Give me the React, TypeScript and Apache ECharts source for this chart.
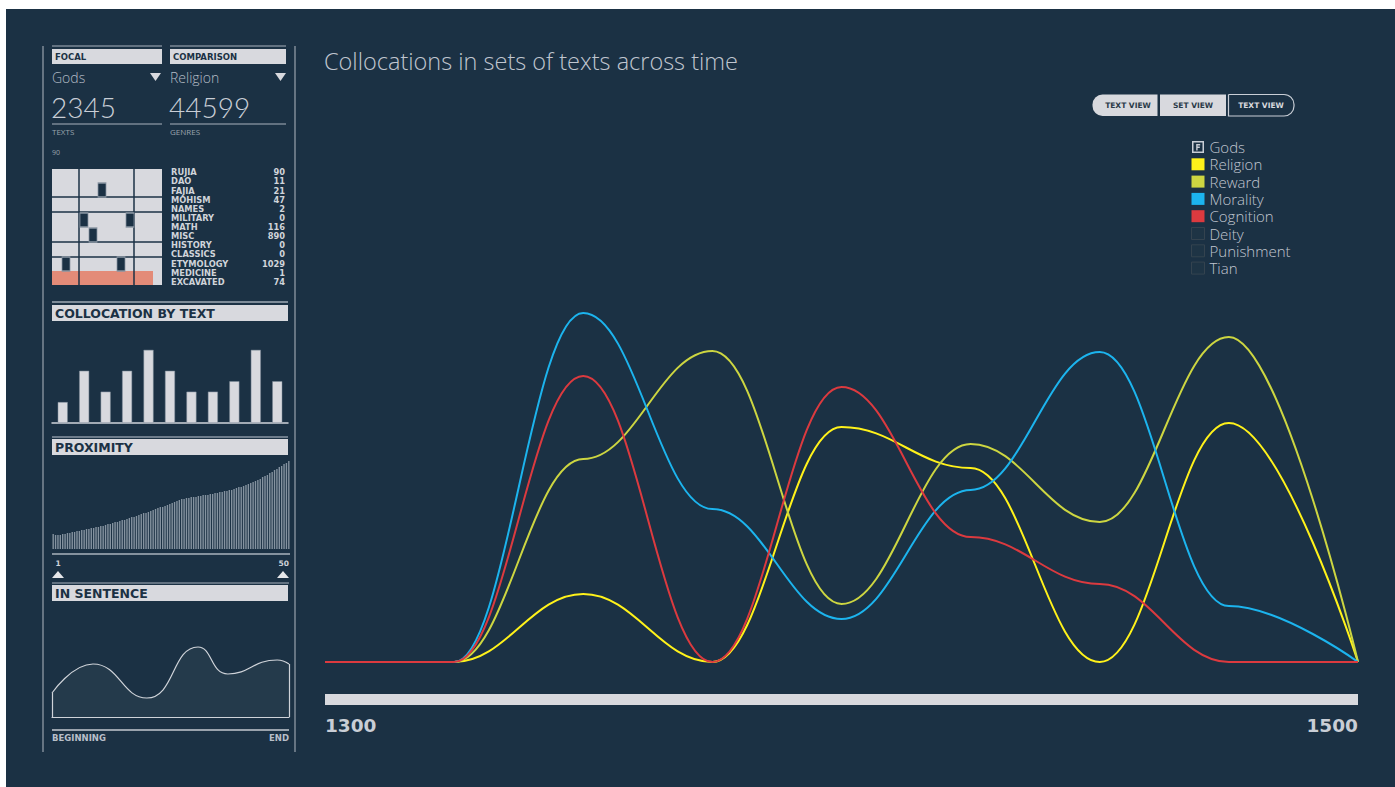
import React, { useEffect, useRef } from 'react';
import * as echarts from 'echarts';

// ---- main chart data ----
const years = [1300, 1325, 1350, 1375, 1400, 1425, 1450, 1475, 1500];
const religion = [0, 0, 68, 0, 235, 194, 0, 239, 0];
const reward = [0, 0, 203, 311, 58, 218, 140, 325, 0];
const morality = [0, 0, 349, 153, 43, 172, 310, 56, 0];
const cognition = [0, 0, 286, 0, 275, 125, 78, 0, 0];
const legendNames = ['Gods', 'Religion', 'Reward', 'Morality', 'Cognition', 'Deity', 'Punishment', 'Tian'];
const seriesColors: Record<string, string> = {
  Religion: '#fff21a',
  Reward: '#cdd641',
  Morality: '#1cb4ee',
  Cognition: '#dc3a3f',
};

// ---- side panel data ----
const focalTerm = 'Gods';
const comparisonTerm = 'Religion';
const textCount = '2345';
const genreCount = '44599';
const genreNames = ['RUJIA', 'DAO', 'FAJIA', 'MOHISM', 'NAMES', 'MILITARY', 'MATH', 'MISC', 'HISTORY', 'CLASSICS', 'ETYMOLOGY', 'MEDICINE', 'EXCAVATED'];
const genreCounts = [90, 11, 21, 47, 2, 0, 116, 890, 0, 0, 1029, 1, 74];
const gridCells = [[50, 21], [32, 51], [78, 51], [41, 66], [14, 95], [69, 95]];
const gridFill = [101];
const collocationByText = [2, 5, 3, 5, 7, 5, 3, 3, 4, 7, 4];
const proximity = [
  15, 14, 14, 14, 15, 15, 16, 16, 17, 17,
  18, 18, 19, 19, 20, 20, 21, 21, 22, 22,
  23, 23, 24, 25, 25, 26, 27, 27, 28, 29,
  29, 30, 31, 32, 32, 33, 34, 35, 36, 36,
  37, 38, 39, 40, 41, 42, 42, 43, 44, 45,
  46, 47, 48, 49, 50, 50, 51, 51, 52, 52,
  52, 53, 53, 54, 54, 54, 55, 55, 56, 56,
  57, 57, 58, 58, 59, 59, 60, 61, 62, 62,
  63, 64, 65, 66, 67, 68, 69, 70, 72, 73,
  74, 76, 77, 79, 80, 82, 83, 85, 86, 88,
];
const sentencePos = [0, 17.3, 40, 61.6, 74.2, 95, 100];
const sentenceVal = [24, 53, 19, 70, 43, 57, 53];

const BG = '#1b3144';
const PANEL = '#d8d9de';
const BOLD = 'DejaVu Sans';
const LIGHT = 'Lato';
const THIN = 'Open Sans';

function txt(text: string, x: number, y: number, size: number, fill: string, weight: any = 'normal', family = BOLD, align = 'left', z = 5) {
  return {
    type: 'text', x, y, z,
    style: { text, fontSize: size, fontWeight: weight, fontFamily: family, fill, textAlign: align, textVerticalAlign: 'middle' },
  };
}
function hline(x1: number, x2: number, y: number, stroke: string, w = 1, z = 5) {
  return { type: 'line', z, shape: { x1, y1: y, x2, y2: y }, style: { stroke, lineWidth: w } };
}
function vline(x: number, y1: number, y2: number, stroke: string, w = 1, z = 5) {
  return { type: 'line', z, shape: { x1: x, y1, x2: x, y2 }, style: { stroke, lineWidth: w } };
}
function rect(x: number, y: number, w: number, h: number, fill: string, z = 1, extra: any = {}) {
  return { type: 'rect', z, shape: { x, y, width: w, height: h, ...(extra.shape || {}) }, style: { fill, ...(extra.style || {}) } };
}

export default function App() {
  const ref = useRef<HTMLDivElement>(null);
  useEffect(() => {
    const chart = echarts.init(ref.current!, null, { renderer: 'svg' });

    const graphic: any[] = [
      rect(6, 9, 1389, 778, BG, -10),
      // panel borders
      vline(43, 46, 752, '#9aa3ad', 1.2),
      vline(295, 46, 752, '#9aa3ad', 1.2),
      // focal / comparison
      hline(52, 162, 46, '#aab3bd', 1),
      hline(170, 286, 46, '#aab3bd', 1),
      rect(52, 49, 110, 15, PANEL, 1),
      rect(170, 49, 116, 15, PANEL, 1),
      txt('FOCAL', 55, 57, 8.5, BG, 'bold'),
      txt('COMPARISON', 173, 57, 8.5, BG, 'bold'),
      txt(focalTerm, 52, 77.5, 14, '#b4bcc6', 300, THIN),
      txt(comparisonTerm, 170, 77.5, 14, '#b4bcc6', 300, THIN),
      { type: 'polygon', z: 5, shape: { points: [[150, 73], [161, 73], [155.5, 81]] }, style: { fill: PANEL } },
      { type: 'polygon', z: 5, shape: { points: [[275, 73], [286, 73], [280.5, 81]] }, style: { fill: PANEL } },
      txt(textCount, 51, 107, 28, '#c9ced6', 300, LIGHT),
      txt(genreCount, 169, 107, 28, '#c9ced6', 300, LIGHT),
      hline(52, 162, 124, '#aab3bd', 1),
      hline(170, 286, 124, '#aab3bd', 1),
      txt('TEXTS', 52, 131.5, 8, '#9aa3ad', 'normal', THIN),
      txt('GENRES', 170, 131.5, 8, '#9aa3ad', 'normal', THIN),
      txt(String(genreCounts[0]), 52, 152, 7, '#9aa3ad', 'normal', THIN),
      // cell grid
      rect(52, 169, 110, 116, PANEL, 0),
      vline(79, 169, 285, BG, 1.5, 10),
      vline(134, 169, 285, BG, 1.5, 10),
      hline(52, 162, 197, BG, 1.5, 10),
      hline(52, 162, 212, BG, 1.5, 10),
      hline(52, 162, 242, BG, 1.5, 10),
      hline(52, 162, 257, BG, 1.5, 10),
      // collocation header
      hline(52, 288, 302, '#7d8b98', 2),
      rect(52, 305, 236, 16, PANEL, 1),
      txt('COLLOCATION BY TEXT', 55, 313.5, 12.5, BG, 'bold'),
      // proximity header
      hline(52, 288, 437, '#8a96a3', 1.5),
      rect(52, 439, 236, 16, PANEL, 1),
      txt('PROXIMITY', 55, 447.5, 12.5, BG, 'bold'),
      hline(52, 290, 554, '#aab3bd', 1.5),
      txt('1', 58, 563, 7.5, '#d0d4da', 'bold', BOLD, 'center'),
      txt('50', 289, 563, 7.5, '#d0d4da', 'bold', BOLD, 'right'),
      { type: 'polygon', z: 5, shape: { points: [[52, 578], [58, 571], [64, 578]] }, style: { fill: '#e6e7ea' } },
      { type: 'polygon', z: 5, shape: { points: [[277, 578], [283, 571], [289, 578]] }, style: { fill: '#e6e7ea' } },
      hline(52, 289, 583, '#aab3bd', 1),
      // in sentence header
      rect(52, 585, 236, 16, PANEL, 1),
      txt('IN SENTENCE', 55, 593.5, 12.5, BG, 'bold'),
      hline(52, 289, 730, '#9aa3ad', 2),
      txt('BEGINNING', 52, 737.5, 8.5, '#b8bfc9', 'bold'),
      txt('END', 289, 737.5, 8.5, '#b8bfc9', 'bold', BOLD, 'right'),
      // title
      txt('Collocations in sets of texts across time', 324, 61, 23.5, '#c0c6d0', 300, THIN),
      // view buttons
      rect(1092.5, 94.5, 65, 21.5, PANEL, 1, { shape: { r: [10, 0, 0, 10] } }),
      rect(1160, 94.5, 66, 21.5, PANEL, 1),
      rect(1228.5, 94.5, 65.5, 21.5, 'none', 1, { shape: { r: [0, 10, 10, 0] }, style: { stroke: '#c9ced6', lineWidth: 1.2 } }),
      txt('TEXT VIEW', 1128, 105.5, 7.5, '#2a3a48', 'bold', BOLD, 'center'),
      txt('SET VIEW', 1193, 105.5, 7.5, '#2a3a48', 'bold', BOLD, 'center'),
      txt('TEXT VIEW', 1261, 105.5, 7.5, '#d8d9de', 'bold', BOLD, 'center'),
    ];

    genreNames.forEach((g, i) => {
      const y = 172.3 + i * 9.12;
      graphic.push(txt(g, 171, y, 8.3, '#d0d4da', 'bold'));
      graphic.push(txt(String(genreCounts[i]), 285, y, 8.3, '#d0d4da', 'bold', BOLD, 'right'));
    });

    const mainData: Record<string, number[]> = { Religion: religion, Reward: reward, Morality: morality, Cognition: cognition };

    const legendData = legendNames.map((n) => {
      if (n === 'Gods') {
        return {
          name: n,
          icon: 'path://M0,0H12V12H0Z M1.5,1.5V10.5H10.5V1.5Z M4.2,3H8.2V4.4H5.6V5.6H7.8V7H5.6V9.4H4.2Z',
          itemStyle: { color: '#c9ced6', borderWidth: 0 },
        };
      }
      if (seriesColors[n]) {
        return { name: n, icon: 'rect', itemStyle: { color: seriesColors[n], borderWidth: 0 } };
      }
      return { name: n, icon: 'rect', itemStyle: { color: '#1e3445', borderColor: '#34434f', borderWidth: 1 } };
    });

    const series: any[] = [];
    legendNames.forEach((n) => {
      if (mainData[n]) {
        series.push({
          name: n, type: 'line', xAxisIndex: 0, yAxisIndex: 0,
          data: years.map((y, i) => [y, mainData[n][i]]),
          smooth: 0.4, smoothMonotone: 'x', showSymbol: false, symbol: 'none',
          lineStyle: { color: seriesColors[n], width: 2 },
          itemStyle: { color: seriesColors[n] },
          z: 3,
        });
      } else {
        series.push({
          name: n, type: 'line', xAxisIndex: 0, yAxisIndex: 0, data: [],
          symbol: 'none', lineStyle: { color: '#1e3445' }, itemStyle: { color: '#1e3445' },
        });
      }
    });

    series.push({
      type: 'scatter', xAxisIndex: 1, yAxisIndex: 1, data: gridCells,
      symbol: 'rect', symbolSize: [8, 14], z: 20, silent: true,
      itemStyle: { color: BG, borderColor: '#8a96a3', borderWidth: 1, opacity: 1 },
    });
    series.push({
      type: 'bar', xAxisIndex: 2, yAxisIndex: 2, data: gridFill, barWidth: 14, z: 2, silent: true,
      itemStyle: { color: '#e38b78' },
    });
    series.push({
      type: 'bar', xAxisIndex: 3, yAxisIndex: 3, data: collocationByText, barWidth: 10, silent: true,
      itemStyle: { color: PANEL, borderColor: '#7d8b98', borderWidth: 0.5 },
    });
    series.push({
      type: 'bar', xAxisIndex: 4, yAxisIndex: 4, data: proximity, barWidth: 1.4, silent: true,
      itemStyle: { color: '#8593a0' },
    });
    series.push({
      type: 'line', xAxisIndex: 5, yAxisIndex: 5, silent: true,
      data: sentencePos.map((p, i) => [p, sentenceVal[i]]),
      smooth: 0.5, symbol: 'none',
      lineStyle: { color: '#cfd3d9', width: 1.2 },
      areaStyle: { color: '#243a4b', opacity: 1 },
      markLine: {
        silent: true, symbol: ['none', 'none'], label: { show: false },
        lineStyle: { color: '#cfd3d9', width: 1.2, type: 'solid' },
        data: [
          [{ coord: [sentencePos[0], 0] }, { coord: [sentencePos[0], sentenceVal[0]] }],
          [{ coord: [sentencePos[sentencePos.length - 1], 0] }, { coord: [sentencePos[sentencePos.length - 1], sentenceVal[sentenceVal.length - 1]] }],
        ],
      },
    });

    const hidden = { show: false };
    chart.setOption({
      animation: false,
      backgroundColor: '#ffffff',
      graphic,
      legend: {
        show: true, orient: 'vertical', left: 1191, top: 138.5, padding: 0,
        itemWidth: 13, itemHeight: 12, itemGap: 0.3, selectedMode: false,
        textStyle: { color: '#c0c6d0', fontSize: 15, fontFamily: THIN, fontWeight: 300, lineHeight: 17 },
        data: legendData,
      },
      grid: [
        { left: 325, top: 262, width: 1033, height: 400 },
        { left: 52, top: 169, width: 110, height: 116 },
        { left: 52, top: 271, width: 110, height: 14 },
        { left: 52, top: 329, width: 236, height: 94 },
        { left: 52, top: 449, width: 238, height: 100 },
        { left: 52, top: 617, width: 237, height: 100 },
      ],
      xAxis: [
        {
          gridIndex: 0, type: 'value', min: 1300, max: 1500, interval: 200,
          axisLine: { show: true, onZero: false, lineStyle: { color: PANEL, width: 11, cap: 'butt' } },
          offset: 37.5,
          axisTick: hidden, splitLine: hidden,
          axisLabel: {
            show: true, margin: 26, color: '#c9ced6', fontSize: 18.5, fontWeight: 'bold', fontFamily: BOLD,
            alignMinLabel: 'left', alignMaxLabel: 'right', showMinLabel: true, showMaxLabel: true,
            verticalAlign: 'middle', formatter: (v: number) => String(v),
          },
        },
        { gridIndex: 1, type: 'value', min: 0, max: 110, show: false },
        { gridIndex: 2, type: 'value', min: 0, max: 110, show: false },
        {
          gridIndex: 3, type: 'category', data: collocationByText.map((_, i) => String(i + 1)),
          axisLine: { show: true, lineStyle: { color: '#d0d4da', width: 1.5 } },
          axisTick: hidden, axisLabel: hidden, splitLine: hidden,
        },
        { gridIndex: 4, type: 'category', data: proximity.map((_, i) => String(i + 1)), show: false },
        {
          gridIndex: 5, type: 'value', min: 0, max: 100,
          axisLine: { show: true, lineStyle: { color: '#cfd3d9', width: 1.2 } },
          axisTick: hidden, axisLabel: hidden, splitLine: hidden,
        },
      ],
      yAxis: [
        { gridIndex: 0, type: 'value', min: 0, max: 400, show: false },
        { gridIndex: 1, type: 'value', min: 0, max: 116, inverse: true, show: false },
        { gridIndex: 2, type: 'category', data: ['all'], show: false },
        { gridIndex: 3, type: 'value', min: 0, max: 9, show: false },
        { gridIndex: 4, type: 'value', min: 0, max: 100, show: false },
        { gridIndex: 5, type: 'value', min: 0, max: 100, show: false },
      ],
      series,
    });
    return () => chart.dispose();
  }, []);
  return <div ref={ref} style={{ position: 'fixed', left: 0, top: 0, width: 1395, height: 787 }} />;
}
